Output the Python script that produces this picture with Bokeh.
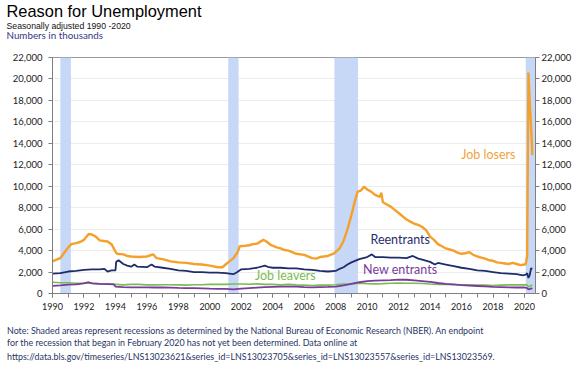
from bokeh.plotting import figure
from bokeh.layouts import column
from bokeh.models import (Range1d, LinearAxis, Label, Title, NumeralTickFormatter,
                          SingleIntervalTicker)
from bokeh.embed import file_html
from bokeh.resources import INLINE

# ---------------- data (thousands) ----------------
losers_x = [1990.0, 1990.25, 1990.5, 1990.75, 1991.0, 1991.2, 1991.5, 1991.75, 1992.0, 1992.3,
            1992.5, 1992.75, 1993.0, 1993.25, 1993.5, 1993.75, 1994.0, 1994.1, 1994.5, 1994.75,
            1995.0, 1995.5, 1996.0, 1996.4, 1996.6, 1997.0, 1997.5, 1998.0, 1998.5, 1999.0,
            1999.5, 2000.0, 2000.5, 2000.8, 2001.0, 2001.25, 2001.5, 2001.75, 2001.9, 2002.25,
            2002.5, 2002.75, 2003.0, 2003.4, 2003.6, 2003.9, 2004.25, 2004.5, 2004.75, 2005.0,
            2005.5, 2006.0, 2006.5, 2006.75, 2007.0, 2007.5, 2007.9, 2008.25, 2008.5, 2008.75,
            2009.0, 2009.25, 2009.4, 2009.6, 2009.8, 2010.0, 2010.25, 2010.5, 2010.8, 2010.9,
            2011.0, 2011.25, 2011.5, 2011.75, 2012.0, 2012.25, 2012.5, 2012.75, 2013.0, 2013.25,
            2013.5, 2013.75, 2014.0, 2014.25, 2014.5, 2014.75, 2015.0, 2015.25, 2015.5, 2015.75,
            2016.0, 2016.25, 2016.5, 2016.75, 2017.0, 2017.25, 2017.5, 2017.75, 2018.0, 2018.25,
            2018.5, 2018.75, 2019.0, 2019.25, 2019.5, 2019.75, 2020.0, 2020.08, 2020.17, 2020.25,
            2020.33, 2020.42, 2020.5]
losers_y = [3000, 3150, 3300, 3800, 4300, 4600, 4700, 4800, 5000, 5550,
            5500, 5300, 4950, 4900, 4850, 4600, 3900, 3700, 3650, 3500,
            3450, 3400, 3450, 3650, 3300, 3200, 3000, 2900, 2850, 2750,
            2700, 2600, 2450, 2450, 2700, 3000, 3300, 3800, 4400, 4450,
            4500, 4600, 4650, 5000, 4850, 4500, 4300, 4200, 4050, 4000,
            3700, 3600, 3300, 3250, 3400, 3500, 3750, 4200, 4900, 6000,
            7300, 8800, 9500, 9600, 9950, 9700, 9500, 9200, 9000, 9400,
            8500, 8300, 8100, 7800, 7500, 7200, 6900, 6700, 6500, 6400,
            6200, 5900, 5300, 5000, 4600, 4400, 4200, 4100, 4000, 3800,
            3700, 3750, 3850, 3600, 3450, 3350, 3250, 3100, 3050, 2900,
            2850, 2800, 2750, 2850, 2750, 2650, 2700, 2750, 3500, 20600,
            18000, 15500, 12900]

reent_x = [1990.0, 1990.5, 1991.0, 1991.5, 1992.0, 1992.5, 1993.0, 1993.3, 1993.5, 1993.75,
           1994.0, 1994.05, 1994.2, 1994.5, 1994.75, 1995.0, 1995.2, 1995.4, 1996.0, 1996.3,
           1996.5, 1997.0, 1997.5, 1998.0, 1998.5, 1999.0, 1999.5, 2000.0, 2000.5, 2001.0,
           2001.5, 2001.75, 2002.0, 2002.5, 2003.0, 2003.5, 2003.75, 2004.0, 2004.5, 2005.0,
           2005.5, 2006.0, 2006.5, 2007.0, 2007.5, 2008.0, 2008.25, 2008.5, 2008.75, 2009.0,
           2009.5, 2009.75, 2010.0, 2010.3, 2010.5, 2011.0, 2011.5, 2012.0, 2012.5, 2012.9,
           2013.25, 2013.5, 2014.0, 2014.3, 2014.5, 2015.0, 2015.5, 2016.0, 2016.5, 2017.0,
           2017.5, 2018.0, 2018.5, 2019.0, 2019.5, 2019.9, 2020.08, 2020.17, 2020.25, 2020.33,
           2020.42, 2020.5]
reent_y = [1850, 1900, 2050, 2100, 2200, 2250, 2250, 2300, 2050, 2150,
           2150, 2950, 3100, 2750, 2600, 2500, 2700, 2500, 2450, 2700,
           2500, 2400, 2300, 2150, 2100, 2000, 2000, 1950, 1950, 1900,
           1800, 2000, 2250, 2300, 2400, 2600, 2450, 2400, 2400, 2350,
           2350, 2250, 2200, 2100, 2050, 2100, 2300, 2450, 2700, 2900,
           3200, 3300, 3400, 3650, 3400, 3400, 3350, 3350, 3300, 3500,
           3250, 3150, 2950, 2700, 2850, 2700, 2550, 2400, 2300, 2150,
           2100, 2000, 1900, 1850, 1800, 1700, 1750, 1900, 1450, 1700,
           2350, 2300]

leavers_x = [1990.0, 1990.5, 1991.0, 1991.5, 1992.0, 1992.5, 1993.0, 1993.5, 1994.0, 1994.5,
             1995.0, 1995.5, 1996.0, 1996.5, 1997.0, 1997.5, 1998.0, 1998.5, 1999.0, 1999.5,
             2000.0, 2000.5, 2001.0, 2001.5, 2002.0, 2002.5, 2003.0, 2003.5, 2004.0, 2004.5,
             2005.0, 2005.5, 2006.0, 2006.5, 2007.0, 2007.5, 2008.0, 2008.5, 2009.0, 2009.5,
             2010.0, 2010.5, 2011.0, 2011.5, 2012.0, 2012.5, 2013.0, 2013.5, 2014.0, 2014.5,
             2015.0, 2015.5, 2016.0, 2016.5, 2017.0, 2017.5, 2018.0, 2018.5, 2019.0, 2019.5,
             2020.0, 2020.17, 2020.25, 2020.5]
leavers_y = [1050, 1000, 1000, 950, 950, 950, 900, 900, 850, 800,
             850, 850, 800, 800, 820, 820, 800, 780, 820, 820,
             850, 850, 850, 880, 880, 860, 900, 850, 850, 800,
             850, 800, 780, 750, 780, 780, 820, 880, 900, 950,
             920, 900, 920, 950, 970, 950, 960, 930, 880, 850,
             850, 820, 820, 800, 780, 780, 750, 780, 800, 800,
             820, 800, 620, 800]

newent_x = [1990.0, 1990.5, 1991.0, 1991.5, 1992.0, 1992.3, 1992.5, 1993.0, 1993.5, 1993.9,
            1994.0, 1994.5, 1995.0, 1995.5, 1996.0, 1996.5, 1997.0, 1997.5, 1998.0, 1998.5,
            1999.0, 1999.5, 2000.0, 2000.5, 2001.0, 2001.5, 2002.0, 2002.5, 2003.0, 2003.5,
            2004.0, 2004.5, 2005.0, 2005.5, 2006.0, 2006.5, 2007.0, 2007.5, 2008.0, 2008.5,
            2009.0, 2009.5, 2010.0, 2010.5, 2011.0, 2011.5, 2012.0, 2012.5, 2013.0, 2013.5,
            2014.0, 2014.5, 2015.0, 2015.5, 2016.0, 2016.5, 2017.0, 2017.5, 2018.0, 2018.5,
            2019.0, 2019.5, 2020.0, 2020.17, 2020.25, 2020.42, 2020.5]
newent_y = [720, 760, 820, 850, 950, 1050, 950, 900, 880, 850,
            650, 600, 580, 570, 570, 560, 560, 540, 520, 510,
            500, 480, 450, 430, 430, 380, 450, 500, 550, 600,
            620, 640, 650, 640, 600, 580, 600, 620, 650, 750,
            900, 1050, 1150, 1200, 1230, 1250, 1300, 1280, 1220, 1150,
            1080, 980, 900, 850, 780, 740, 700, 660, 620, 600,
            580, 560, 560, 500, 380, 450, 520]

rec_start = [1990.5, 2001.17, 2007.92, 2020.08]
rec_end = [1991.17, 2001.83, 2009.42, 2020.7]

series_names = ["Job losers", "Reentrants", "New entrants", "Job leavers"]
label_x = [2017.7, 2012.1, 2012.1, 2004.8]
label_y = [12950, 5000, 2210, 1650]

title_text = "Reason for Unemployment"
subtitle_text = "Seasonally adjusted 1990 -2020"
units_text = "Numbers in thousands"
notes = [
    "Note: Shaded areas represent recessions as determined by the National Bureau of Economic Research (NBER). An endpoint",
    "for the recession that began in February 2020 has not yet been determined. Data online at",
    "https://data.bls.gov/timeseries/LNS13023621&series_id=LNS13023705&series_id=LNS13023557&series_id=LNS13023569.",
]

FONT = "Lato"
W = 580
HEAD_H, MAIN_H, FOOT_H = 47, 268, 47
B_LEFT, B_RIGHT = 52, 45


def text_panel(height):
    f = figure(width=W, height=height, output_backend="svg", toolbar_location=None,
               x_range=Range1d(0, 1), y_range=Range1d(0, 1), title=None,
               x_axis_type=None, y_axis_type=None, min_border=0)
    f.xgrid.grid_line_color = None
    f.ygrid.grid_line_color = None
    f.outline_line_color = None
    f.background_fill_color = "white"
    f.border_fill_color = "white"
    return f


# ---------------- header (titles stacked above a tiny empty frame) ----------------
head = text_panel(HEAD_H)
head.add_layout(Title(text=units_text, text_font=FONT, text_font_size="9.8px",
                      text_color="#35388a", text_font_style="normal", align="left",
                      offset=6 - B_LEFT, standoff=-8.8), "above")
head.add_layout(Title(text=subtitle_text, text_font="Liberation Sans", text_font_size="8.7px",
                      text_color="#111111", text_font_style="normal", align="left",
                      offset=6 - B_LEFT, standoff=0.9), "above")
head.add_layout(Title(text=title_text, text_font="Liberation Sans", text_font_size="16.4px",
                      text_color="#000000", text_font_style="normal", align="left",
                      offset=6 - B_LEFT, standoff=-2.4), "above")

# ---------------- main chart ----------------
p = figure(width=W, height=MAIN_H, output_backend="svg", toolbar_location=None,
           x_range=Range1d(1990, 2020.7), y_range=Range1d(0, 22000), title=None,
           min_border_left=B_LEFT, min_border_right=B_RIGHT, min_border_top=10,
           min_border_bottom=22)
p.background_fill_color = "white"
p.border_fill_color = "white"
p.outline_line_color = "#9a9a9a"
p.outline_line_width = 1

p.quad(left=rec_start, right=rec_end, bottom=0, top=22000,
       fill_color="#c6d8f6", line_color=None)

p.line(leavers_x, leavers_y, line_color="#7dbb4e", line_width=1.6)
p.line(newent_x, newent_y, line_color="#7a3b9e", line_width=1.8)
p.line(reent_x, reent_y, line_color="#1f2c6b", line_width=1.8)
p.line(losers_x, losers_y, line_color="#f5a02a", line_width=2.4)

p.xaxis.ticker = SingleIntervalTicker(interval=2, num_minor_ticks=2)
p.yaxis.ticker = SingleIntervalTicker(interval=2000, num_minor_ticks=0)
p.yaxis.formatter = NumeralTickFormatter(format="0,0")
right = LinearAxis(ticker=SingleIntervalTicker(interval=2000, num_minor_ticks=0),
                   formatter=NumeralTickFormatter(format="0,0"))
p.add_layout(right, "right")

for ax in [p.xaxis[0], p.yaxis[0], right]:
    ax.axis_line_color = "#7f7f7f"
    ax.major_tick_line_color = "#7f7f7f"
    ax.minor_tick_line_color = "#7f7f7f"
    ax.major_tick_in = 0
    ax.major_tick_out = 4
    ax.minor_tick_in = 0
    ax.minor_tick_out = 4
    ax.major_label_text_font = FONT
    ax.major_label_text_font_size = "9.5px"
    ax.major_label_text_color = "#222222"
p.xaxis[0].major_label_text_font_size = "9px"
p.xaxis[0].major_label_standoff = 5
p.yaxis[0].major_label_standoff = 6
right.major_label_standoff = 2
p.yaxis[0].minor_tick_line_color = None
right.minor_tick_line_color = None

p.xgrid.grid_line_color = None
p.ygrid.ticker = SingleIntervalTicker(interval=2000, num_minor_ticks=0)
p.ygrid.grid_line_color = "#ececec"

label_colors = ["#f2a33a", "#1f2c6b", "#7a3b9e", "#7dbb4e"]
for name, lx, ly, c in zip(series_names, label_x, label_y, label_colors):
    p.add_layout(Label(x=lx, y=ly, text=name, text_color=c, text_font=FONT,
                       text_font_size="12.5px", text_align="center", text_baseline="middle"))

# ---------------- footer (notes stacked below a tiny empty frame) ----------------
foot = text_panel(FOOT_H)
for t, so in zip(notes, [-1.2, -1.2, 2.0]):
    foot.add_layout(Title(text=t, text_font=FONT, text_font_size="8.9px", text_color="#1f3464",
                          text_font_style="normal", align="left", offset=6.5 - B_LEFT,
                          standoff=so), "below")

layout = column(head, p, foot, spacing=0)
open("out.html", "w").write(file_html(layout, INLINE))
